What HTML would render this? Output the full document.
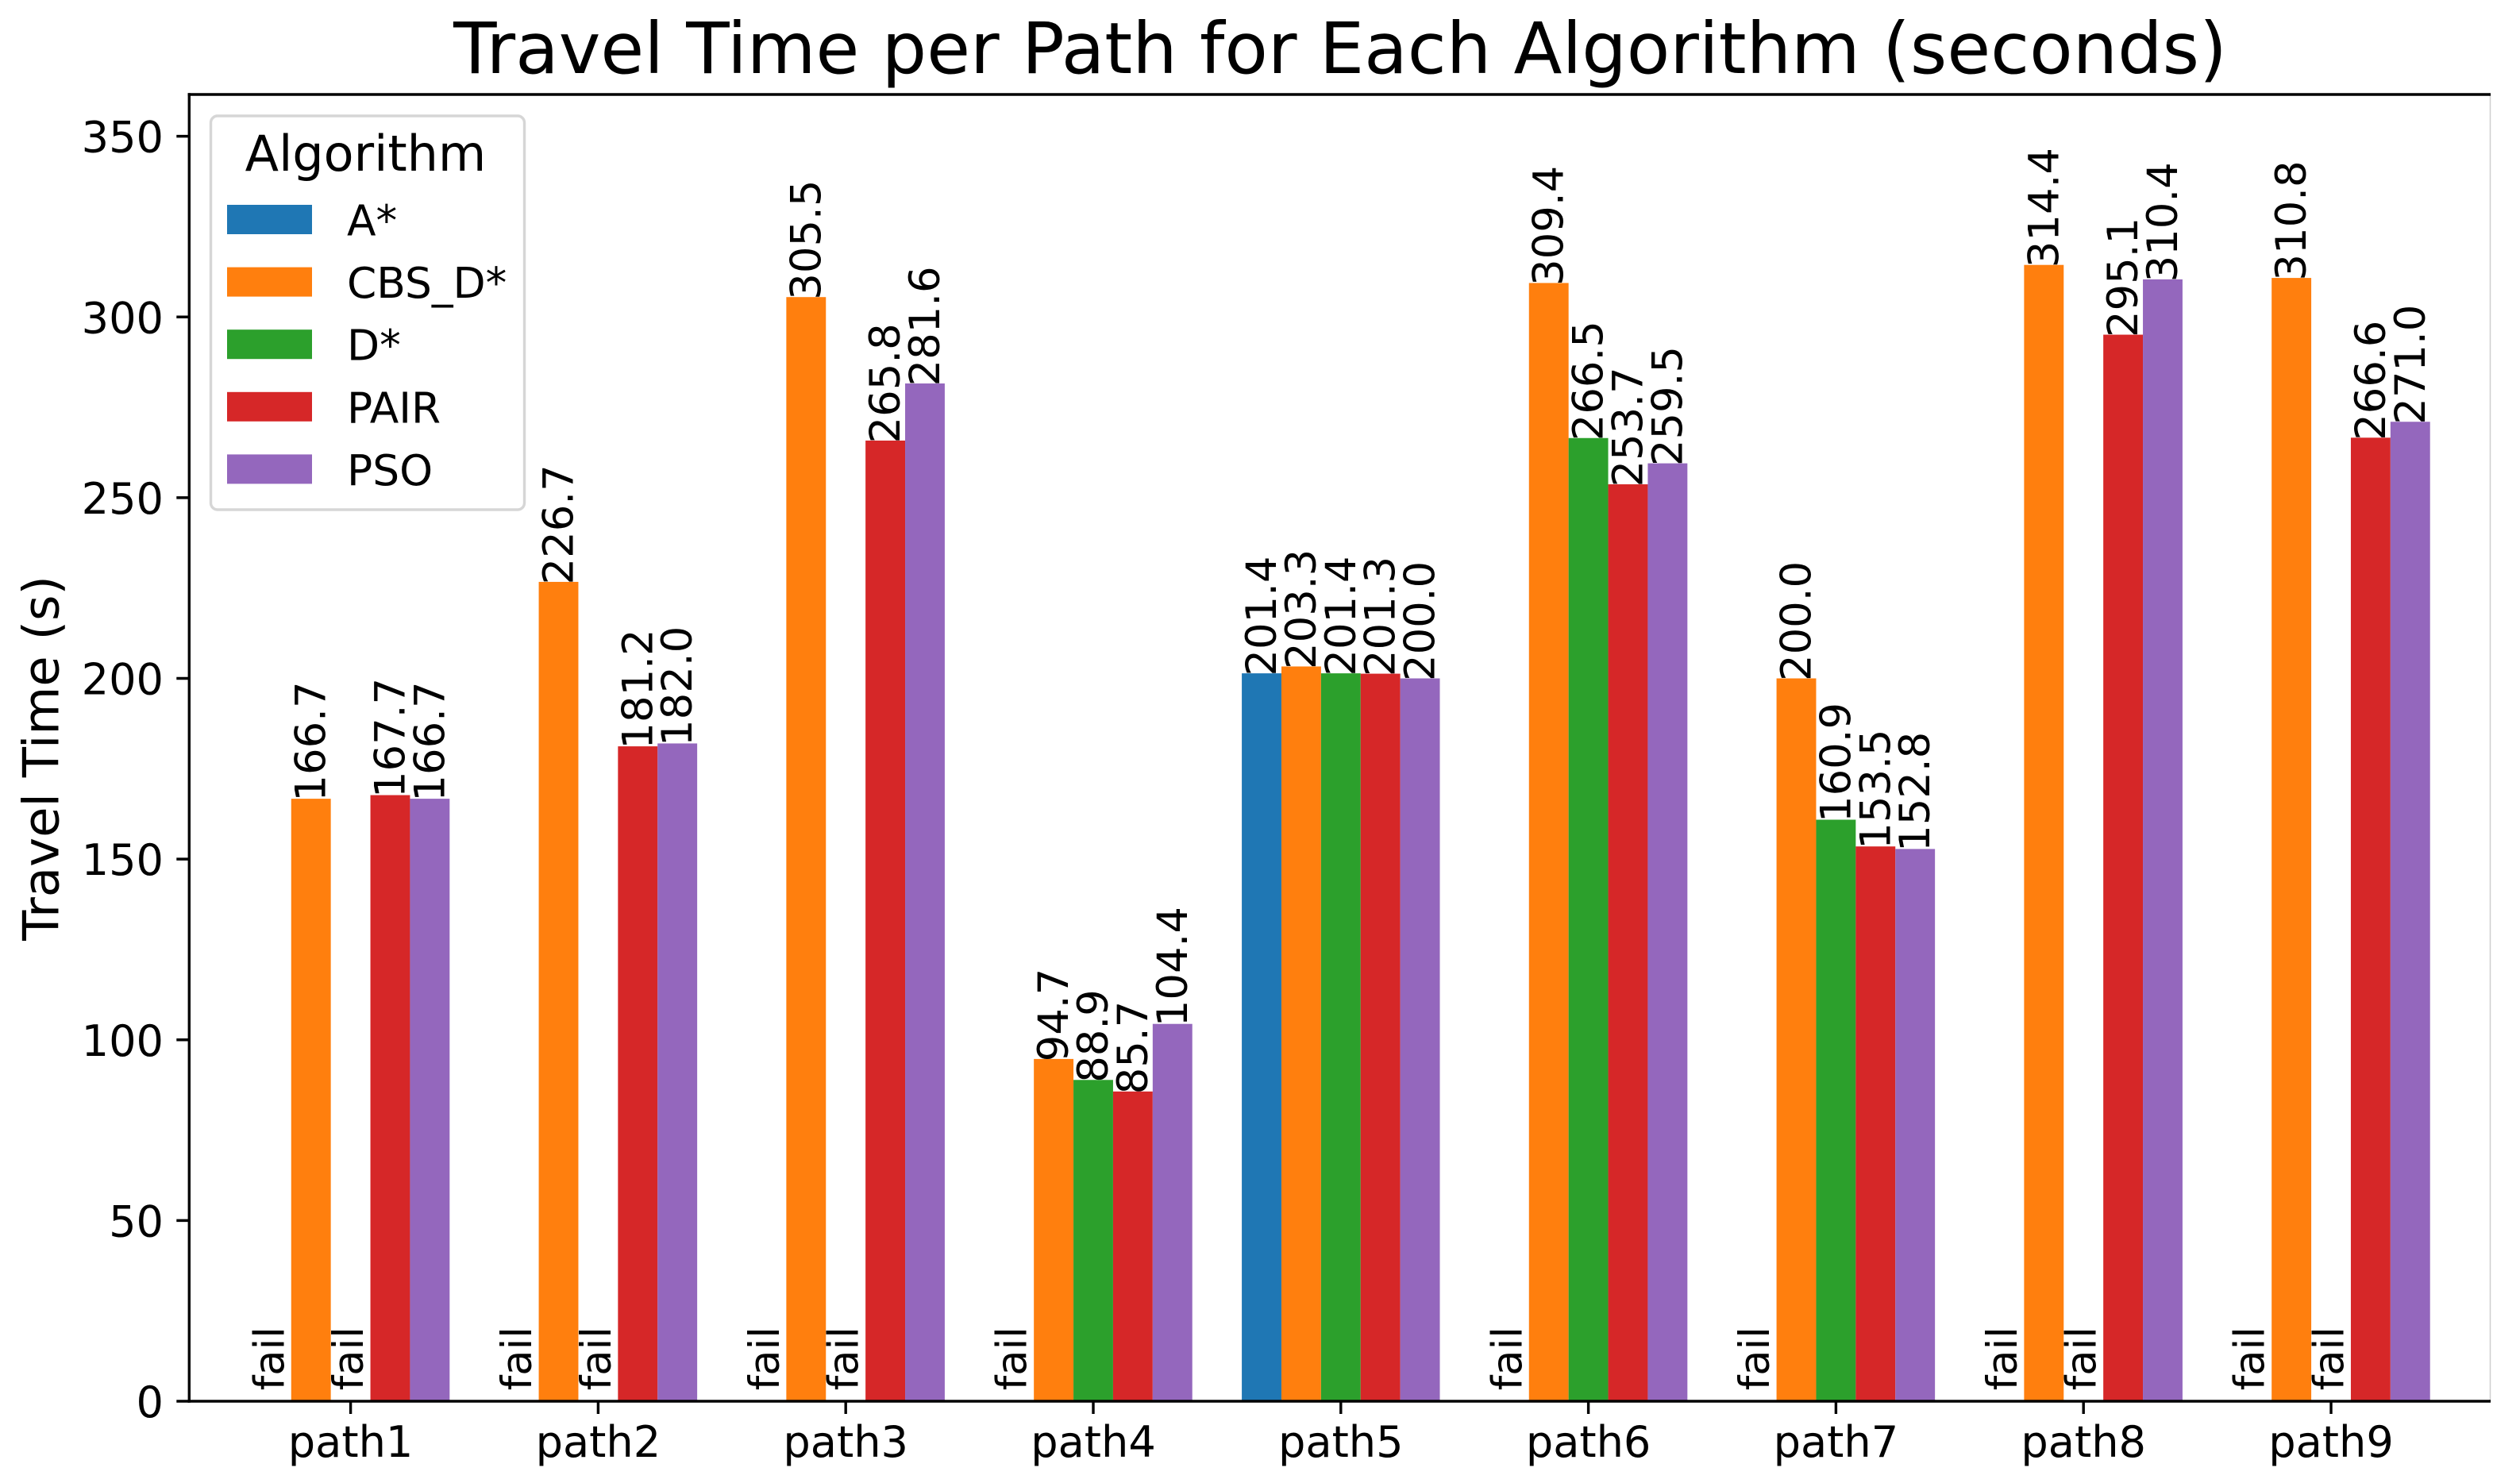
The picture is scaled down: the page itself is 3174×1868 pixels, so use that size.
<!DOCTYPE html>
<html lang="en">
<head>
<meta charset="utf-8">
<title>Travel Time per Path for Each Algorithm (seconds)</title>
<style>
html,body{margin:0;padding:0;background:#fff;width:3174px;height:1868px;overflow:hidden}
svg{display:block}
text{font-family:"DejaVu Sans","Liberation Sans",sans-serif;fill:#000}
</style>
</head>
<body>
<svg id="chart" xmlns="http://www.w3.org/2000/svg" width="3174" height="1868" viewBox="0 0 3174 1868">
  <rect x="0" y="0" width="3174" height="1868" fill="#ffffff"/>
  <text x="1688" y="92" font-size="89.1" text-anchor="middle">Travel Time per Path for Each Algorithm (seconds)</text>
  <text transform="translate(73.3,955) rotate(-90)" font-size="62.5" text-anchor="middle">Travel Time (s)</text>
  <g id="bars"></g>
  <g id="value-labels"></g>
  <g id="x-axis"></g>
  <g id="y-axis"></g>
  <line x1="3136.5" y1="119" x2="3136.5" y2="1765" stroke="#cfcfcf" stroke-width="1.5"/>
  <line x1="236.6" y1="119" x2="3137" y2="119" stroke="#000" stroke-width="3.4"/>
  <line x1="238.3" y1="117.3" x2="238.3" y2="1766.7" stroke="#000" stroke-width="3.4"/>
  <line x1="236.6" y1="1765" x2="3137" y2="1765" stroke="#000" stroke-width="3.4"/>
  <g id="legend">
    <rect x="265.5" y="146" width="395" height="496" rx="8.5" ry="8.5" fill="#ffffff" fill-opacity="0.8" stroke="#cccccc" stroke-opacity="0.8" stroke-width="3.4"/>
    <text x="460.5" y="215" font-size="62" text-anchor="middle">Algorithm</text>
  </g>
</svg>
<script>
var categories = ["path1","path2","path3","path4","path5","path6","path7","path8","path9"];
var seriesNames = ["A*","CBS_D*","D*","PAIR","PSO"];
var seriesColors = ["#1f77b4","#ff7f0e","#2ca02c","#d62728","#9467bd"];
var valuesAStar = [null,null,null,null,201.4,null,null,null,null];
var valuesCbsD = [166.7,226.7,305.5,94.7,203.3,309.4,200.0,314.4,310.8];
var valuesD = [null,null,null,88.9,201.4,266.5,160.9,null,null];
var valuesPair = [167.7,181.2,265.8,85.7,201.3,253.7,153.5,295.1,266.6];
var valuesPso = [166.7,182.0,281.6,104.4,200.0,259.5,152.8,310.4,271.0];
var yTicks = [0,50,100,150,200,250,300,350];
var failLabelValue = 3;
var failText = "fail";

var allSeries = [valuesAStar,valuesCbsD,valuesD,valuesPair,valuesPso];
var NS = "http://www.w3.org/2000/svg";
var plot = {left:238.3,right:3136.5,top:119,bottom:1765};
var xDomain = [-0.652,8.643];
var yDomain = [0,361.56];
var groupWidth = 0.8;
var labelFontSize = 54.17;
var valueFontSize = 52.8;
var legendFontSize = 53.4;

function xScale(v){
  return plot.left + (v - xDomain[0]) / (xDomain[1] - xDomain[0]) * (plot.right - plot.left);
}
function yScale(v){
  return plot.bottom - (v - yDomain[0]) / (yDomain[1] - yDomain[0]) * (plot.bottom - plot.top);
}
function make(tag, attrs, parent, content){
  var el = document.createElementNS(NS, tag);
  for (var k in attrs) { el.setAttribute(k, attrs[k]); }
  if (content !== undefined) { el.textContent = content; }
  parent.appendChild(el);
  return el;
}
var barsG = document.getElementById("bars");
var labelsG = document.getElementById("value-labels");
var xG = document.getElementById("x-axis");
var yG = document.getElementById("y-axis");
var legendG = document.getElementById("legend");
var barW = groupWidth / seriesNames.length;

seriesNames.forEach(function(name, s){
  allSeries[s].forEach(function(value, i){
    var center = i + (s - (seriesNames.length - 1) / 2) * barW;
    var cx = xScale(center);
    if (value === null) {
      var fx = cx + 15.5;
      var fy = yScale(failLabelValue);
      var ft = make("text", {transform:"translate(" + fx + "," + fy + ") rotate(-90)", "font-size":valueFontSize}, labelsG, failText);
      
      
      return;
    }
    var x0 = xScale(center - barW / 2);
    var x1 = xScale(center + barW / 2);
    var top = yScale(value);
    var bar = make("rect", {x:x0, y:top, width:x1 - x0, height:yScale(0) - top, fill:seriesColors[s]}, barsG);
    
    
    var lx = cx + 18;
    var ly = top + 3.5;
    var lt = make("text", {transform:"translate(" + lx + "," + ly + ") rotate(-90)", "font-size":valueFontSize}, labelsG, value.toFixed(1));
    
    
  });
});

categories.forEach(function(cat, i){
  var tx = xScale(i);
  var tick = make("line", {x1:tx, y1:plot.bottom, x2:tx, y2:plot.bottom + 16, stroke:"#000", "stroke-width":3.4}, xG);
  
  
  var label = make("text", {x:tx, y:1835, "font-size":labelFontSize, "text-anchor":"middle"}, xG, cat);
  
  
});

yTicks.forEach(function(v){
  var ty = yScale(v);
  var tick = make("line", {x1:plot.left - 16, y1:ty, x2:plot.left, y2:ty, stroke:"#000", "stroke-width":3.4}, yG);
  
  
  var label = make("text", {x:206, y:ty + 20, "font-size":labelFontSize, "text-anchor":"end"}, yG, String(v));
  
  
});

seriesNames.forEach(function(name, s){
  var ly = 258 + s * 78.6;
  var swatch = make("rect", {x:286, y:ly, width:107, height:37, fill:seriesColors[s]}, legendG);
  
  
  var label = make("text", {x:437, y:ly + 38.5, "font-size":legendFontSize}, legendG, name);
  
  
});
</script>
</body>
</html>
